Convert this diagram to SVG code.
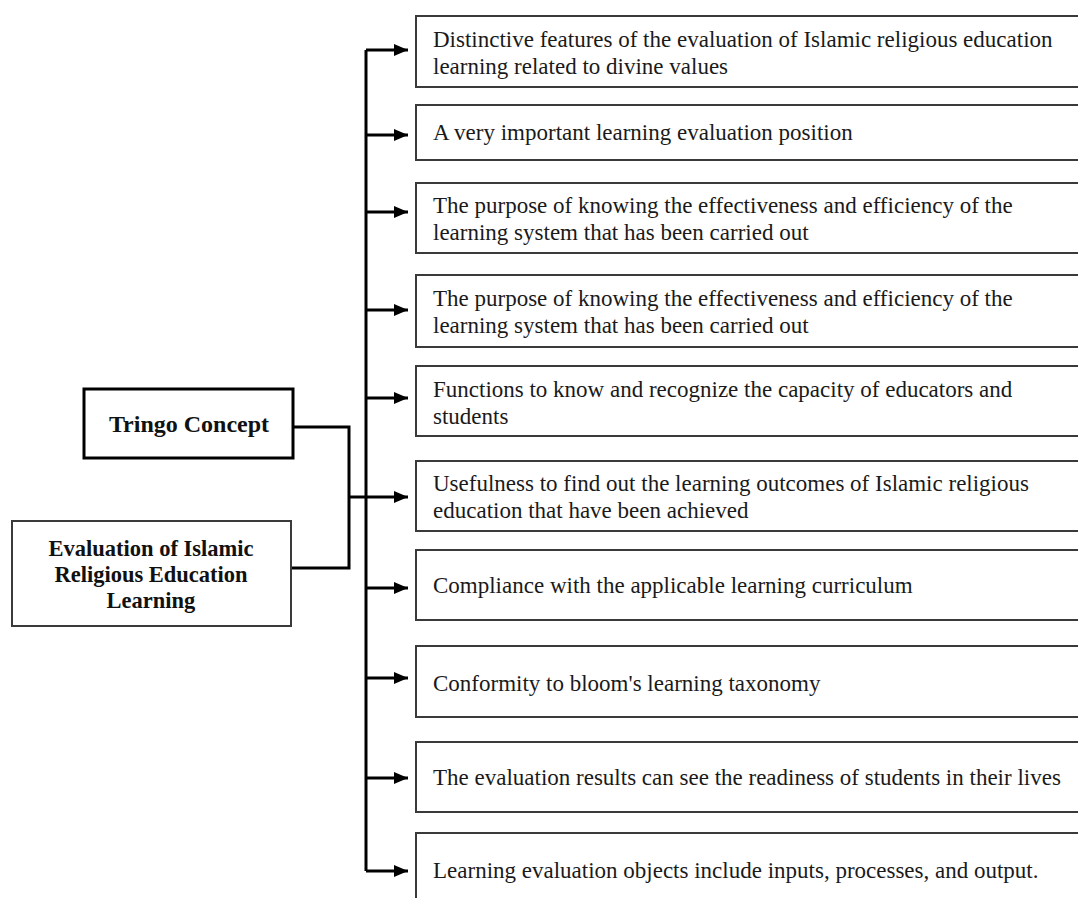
<svg xmlns="http://www.w3.org/2000/svg" width="1078" height="898" viewBox="0 0 1078 898">
<style>
.box{fill:#fff;stroke:#3a3a3a;stroke-width:2}
.t{font-family:"Liberation Serif",serif;font-size:23px;fill:#1a1a1a}
.b{font-family:"Liberation Serif",serif;font-weight:bold;fill:#111;text-anchor:middle}
.c{fill:none;stroke:#000;stroke-width:3}
</style>
<defs>
<marker id="ah" markerWidth="14" markerHeight="12" refX="14" refY="6" orient="auto" markerUnits="userSpaceOnUse">
<path d="M0,0 L14,6 L0,12 Z" fill="#000"/>
</marker>
</defs>
<rect width="1078" height="898" fill="#fff"/>
<g id="connectors">
<path class="c" d="M366,50 V871"/>
<path class="c" d="M293,427 H349 V568 H291"/>
<path class="c" d="M349,497 H366" stroke-width="5"/>
<path class="c" d="M366,50 H408" marker-end="url(#ah)"/>
<path class="c" d="M366,135 H408" marker-end="url(#ah)"/>
<path class="c" d="M366,212 H408" marker-end="url(#ah)"/>
<path class="c" d="M366,310 H408" marker-end="url(#ah)"/>
<path class="c" d="M366,398 H408" marker-end="url(#ah)"/>
<path class="c" d="M366,497 H408" marker-end="url(#ah)"/>
<path class="c" d="M366,588 H408" marker-end="url(#ah)"/>
<path class="c" d="M366,678 H408" marker-end="url(#ah)"/>
<path class="c" d="M366,778 H408" marker-end="url(#ah)"/>
<path class="c" d="M366,871 H408" marker-end="url(#ah)"/>
</g>
<g id="tringo">
<rect x="84" y="389" width="209" height="69" fill="#fff" stroke="#000" stroke-width="3"/>
<text class="b" x="189" y="432" font-size="24">Tringo Concept</text>
</g>
<g id="evaluation">
<rect class="box" x="12" y="521" width="279" height="105"/>
<text class="b" x="151" y="556" font-size="22.5">Evaluation of Islamic</text>
<text class="b" x="151" y="582" font-size="22.5">Religious Education</text>
<text class="b" x="151" y="608" font-size="22.5">Learning</text>
</g>
<g id="n1">
<rect class="box" x="416" y="16" width="680" height="71"/>
<text class="t" x="433" y="47">Distinctive features of the evaluation of Islamic religious education</text>
<text class="t" x="433" y="74">learning related to divine values</text>
</g>
<g id="n2">
<rect class="box" x="416" y="105" width="680" height="55"/>
<text class="t" x="433" y="140">A very important learning evaluation position</text>
</g>
<g id="n3">
<rect class="box" x="416" y="183" width="680" height="70"/>
<text class="t" x="433" y="213">The purpose of knowing the effectiveness and efficiency of the</text>
<text class="t" x="433" y="240">learning system that has been carried out</text>
</g>
<g id="n4">
<rect class="box" x="416" y="275" width="680" height="72"/>
<text class="t" x="433" y="306">The purpose of knowing the effectiveness and efficiency of the</text>
<text class="t" x="433" y="333">learning system that has been carried out</text>
</g>
<g id="n5">
<rect class="box" x="416" y="366" width="680" height="70"/>
<text class="t" x="433" y="397">Functions to know and recognize the capacity of educators and</text>
<text class="t" x="433" y="424">students</text>
</g>
<g id="n6">
<rect class="box" x="416" y="461" width="680" height="70"/>
<text class="t" x="433" y="491">Usefulness to find out the learning outcomes of Islamic religious</text>
<text class="t" x="433" y="518">education that have been achieved</text>
</g>
<g id="n7">
<rect class="box" x="416" y="550" width="680" height="70"/>
<text class="t" x="433" y="593">Compliance with the applicable learning curriculum</text>
</g>
<g id="n8">
<rect class="box" x="416" y="646" width="680" height="71"/>
<text class="t" x="433" y="691">Conformity to bloom's learning taxonomy</text>
</g>
<g id="n9">
<rect class="box" x="416" y="742" width="680" height="70"/>
<text class="t" x="433" y="785">The evaluation results can see the readiness of students in their lives</text>
</g>
<g id="n10">
<rect class="box" x="416" y="833" width="680" height="90"/>
<text class="t" x="433" y="878">Learning evaluation objects include inputs, processes, and output.</text>
</g>
</svg>
